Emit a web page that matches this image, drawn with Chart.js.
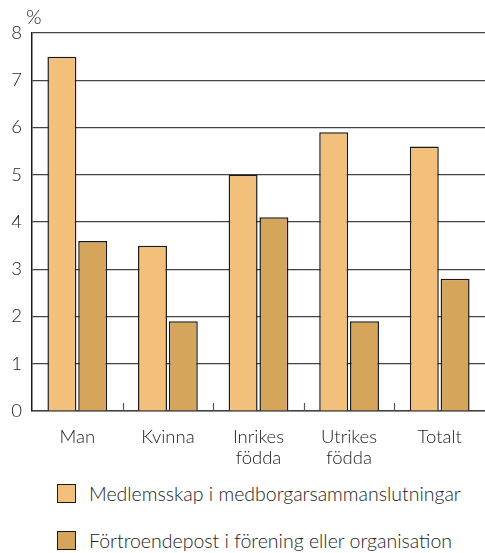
<!DOCTYPE html>
<html>
<head>
<meta charset="utf-8">
<script src="https://cdn.jsdelivr.net/npm/chart.js@4/dist/chart.umd.min.js"></script>
<style>
  html, body { margin: 0; padding: 0; background: #fff; }
  #wrap { position: relative; width: 485px; height: 553px; }
  #c { position: absolute; left: 0; top: 0; }
  #legend { position: absolute; left: 57px; top: 483px; font-family: Lato, sans-serif; font-weight: 300; font-size: 19.5px; color: #222; }
  .item { display: flex; align-items: center; height: 20px; margin-bottom: 27px; }
  .sw { width: 19px; height: 19px; border: 1.5px solid #1a1a1a; box-sizing: border-box; margin-right: 13px; flex: none; }
</style>
</head>
<body>
<div id="wrap">
  <canvas id="c" width="485" height="470"></canvas>
  <div id="legend"></div>
</div>
<script>
const categories = [["Man"], ["Kvinna"], ["Inrikes", "födda"], ["Utrikes", "födda"], ["Totalt"]];
const seriesNames = ["Medlemsskap i medborgarsammanslutningar", "Förtroendepost i förening eller organisation"];
const medlemsskap = [7.5, 3.5, 5.0, 5.9, 5.6];
const fortroendepost = [3.6, 1.9, 4.1, 1.9, 2.8];
const yTicks = [0, 1, 2, 3, 4, 5, 6, 7, 8];
const colors = ["#F3C07C", "#D4A55A"];

const font = { family: "Lato, sans-serif", size: 18.5, weight: 300, lineHeight: 1.17 };

const extras = {
  id: "extras",
  afterDraw(chart) {
    const ctx = chart.ctx;
    const x = chart.scales.x, y = chart.scales.y;
    ctx.save();
    ctx.strokeStyle = "#555";
    ctx.lineWidth = 1.2;
    for (let i = 0; i < categories.length - 1; i++) {
      const px = Math.round((x.getPixelForTick(i) + x.getPixelForTick(i + 1)) / 2) + 0.5;
      ctx.beginPath();
      ctx.moveTo(px, y.bottom);
      ctx.lineTo(px, y.bottom - 8);
      ctx.stroke();
    }
    ctx.fillStyle = "#222";
    ctx.font = "300 20px Lato, sans-serif";
    ctx.textAlign = "left";
    ctx.textBaseline = "alphabetic";
    ctx.fillText("%", y.right - 6, y.getPixelForValue(8) - 9);
    ctx.restore();
  }
};

new Chart(document.getElementById("c"), {
  type: "bar",
  data: {
    labels: categories,
    datasets: [
      { label: seriesNames[0], data: medlemsskap, backgroundColor: colors[0], borderColor: "#1a1a1a", borderWidth: 1.5 },
      { label: seriesNames[1], data: fortroendepost, backgroundColor: colors[1], borderColor: "#1a1a1a", borderWidth: 1.5 }
    ]
  },
  options: {
    responsive: false,
    animation: false,
    events: [],
    layout: { padding: { top: 33, right: 0, left: 0, bottom: 0 } },
    datasets: { bar: { categoryPercentage: 0.68, barPercentage: 0.94 } },
    plugins: { legend: { display: false }, tooltip: { enabled: false } },
    scales: {
      x: {
        grid: { display: false, drawTicks: false },
        border: { display: true, color: "#444", width: 1.5 },
        ticks: { color: "#222", font: font, padding: 15, maxRotation: 0, autoSkip: false },
        afterFit(s) { s.height = 59; }
      },
      y: {
        min: 0, max: 8,
        afterBuildTicks(s) { s.ticks = yTicks.map(v => ({ value: v })); },
        grid: { color: "#444", lineWidth: 1.2, drawTicks: false },
        border: { display: true, color: "#1a1a1a", width: 1.5 },
        ticks: { color: "#222", font: font, padding: 10 },
        afterFit(s) { s.width = 32; }
      }
    }
  },
  plugins: [extras]
});

const leg = document.getElementById("legend");
seriesNames.forEach((n, i) => {
  const d = document.createElement("div");
  d.className = "item";
  const sw = document.createElement("span");
  sw.className = "sw";
  sw.style.background = colors[i];
  const t = document.createElement("span");
  t.textContent = n;
  d.appendChild(sw); d.appendChild(t);
  leg.appendChild(d);
});
</script>
</body>
</html>
